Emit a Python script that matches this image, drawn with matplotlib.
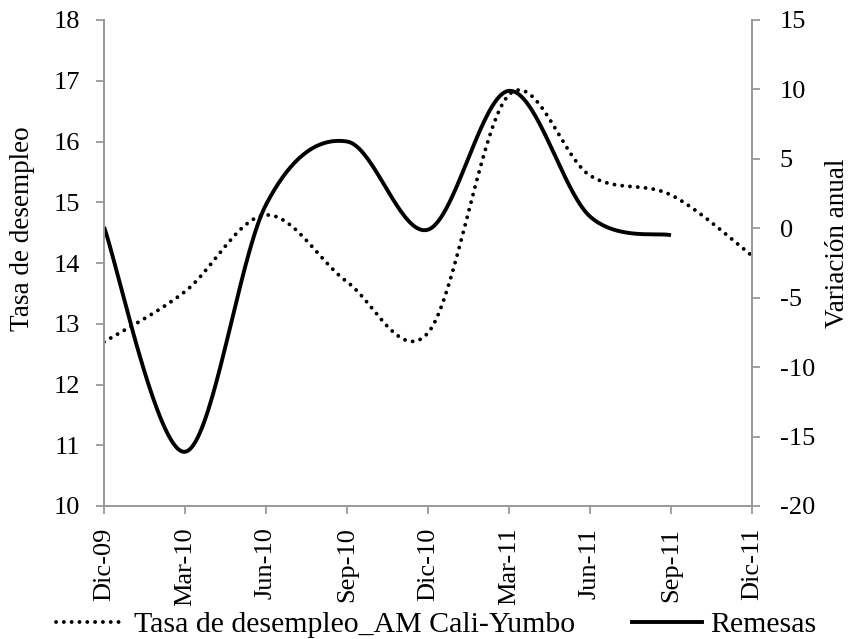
import numpy as np
import matplotlib
matplotlib.use('Agg')
import matplotlib.pyplot as plt
from matplotlib.lines import Line2D

# ---------------------------------------------------------------------------------------------------------------------
# data (quarterly)
quarters = ['Dic-09', 'Mar-10', 'Jun-10', 'Sep-10', 'Dic-10', 'Mar-11', 'Jun-11', 'Sep-11', 'Dic-11']
desempleo = [12.70, 13.53, 14.79, 13.69, 12.85, 16.77, 15.44, 15.12, 14.12]
remesas = [0.1, -16.1, 1.7, 6.25, -0.1, 9.9, 0.85, -0.5]

plt.rcParams['font.family'] = ['Liberation Serif', 'DejaVu Serif']
plt.rcParams['axes.unicode_minus'] = False
gray = '#9a9a9a'
dots = (0, (0.01, 2.0))
W, H = 853, 639


def smooth(xs, ys, n=40):
    # excel style smoothed line: bezier segments with catmull-rom control points
    xs = np.asarray(xs, float)
    ys = np.asarray(ys, float)
    px = np.concatenate([[xs[0]], xs, [xs[-1]]])
    py = np.concatenate([[ys[0]], ys, [ys[-1]]])
    outx, outy = [], []
    t = np.linspace(0, 1, n)
    for i in range(1, len(px) - 2):
        x0, y0 = px[i], py[i]
        x3, y3 = px[i + 1], py[i + 1]
        x1 = x0 + (px[i + 1] - px[i - 1]) / 6
        y1 = y0 + (py[i + 1] - py[i - 1]) / 6
        x2 = x3 - (px[i + 2] - px[i]) / 6
        y2 = y3 - (py[i + 2] - py[i]) / 6
        b0, b1, b2, b3 = (1 - t) ** 3, 3 * t * (1 - t) ** 2, 3 * t ** 2 * (1 - t), t ** 3
        outx.extend(b0 * x0 + b1 * x1 + b2 * x2 + b3 * x3)
        outy.extend(b0 * y0 + b1 * y1 + b2 * y2 + b3 * y3)
    return np.array(outx), np.array(outy)


fig = plt.figure(figsize=(W / 100, H / 100), dpi=100)
ax = fig.add_axes([104 / W, 1 - 506 / H, 648 / W, 486 / H])
ax2 = ax.twinx()

x_d = np.arange(len(desempleo))
x_r = np.arange(len(remesas))
sx, sy = smooth(x_d, desempleo)
ax.plot(sx, sy, color='black', lw=2.8, linestyle=dots, dash_capstyle='round')
rx, ry = smooth(x_r, remesas)
ax2.plot(rx, ry, color='black', lw=2.8, solid_capstyle='butt')

ax.set_xlim(0, len(quarters) - 1)
ax.set_ylim(10, 18)
ax2.set_ylim(-20, 15)
ax.set_xticks(range(len(quarters)))
ax.set_xticklabels(quarters, rotation=90)
ax.set_yticks(range(10, 19))
ax2.set_yticks(range(-20, 16, 5))

for a in (ax, ax2):
    for s in a.spines.values():
        s.set_color(gray)
        s.set_linewidth(1.3)
    a.spines['top'].set_visible(False)
    a.tick_params(colors=gray, labelcolor='black', labelsize=19, width=1.3, length=6, direction='out')
ax.tick_params(axis='y', pad=11.5)
ax2.tick_params(axis='y', pad=14)
ax.tick_params(axis='x', pad=9.5)

# axis titles placed like the original (not centred on the axes)
fig.text(23 / W, 1 - 229 / H, 'Tasa de desempleo', rotation=90, ha='center', va='center', fontsize=19.5)
fig.text(838 / W, 1 - 243 / H, 'Variación anual', rotation=90, ha='center', va='center', fontsize=19.5)

handles = [Line2D([], [], color='black', lw=2.8, linestyle=dots, dash_capstyle='round'),
           Line2D([], [], color='black', lw=2.8)]
fig.legend(handles, ['Tasa de desempleo_AM Cali-Yumbo', 'Remesas'], loc='lower center',
           bbox_to_anchor=(436 / W, 1 / H), ncol=2, frameon=False, fontsize=21.5,
           borderpad=0, borderaxespad=0,
           handlelength=2.35, handletextpad=0.27, columnspacing=1.9)

fig.savefig('out.png', dpi=100)
